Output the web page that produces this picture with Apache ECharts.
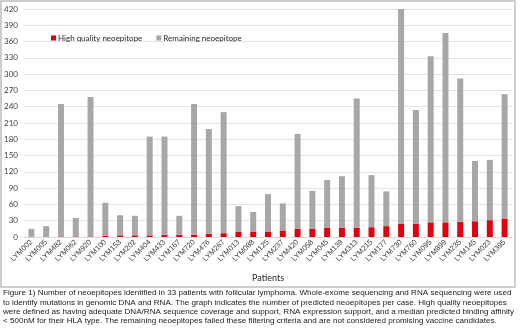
<!DOCTYPE html>
<html><head><meta charset="utf-8">
<script src="https://cdn.jsdelivr.net/npm/echarts@6/dist/echarts.min.js"></script>
<style>html,body{margin:0;padding:0;background:#fff}#c{width:520px;height:328px}</style>
</head><body><div id="c"></div>
<script>
const patients = ['LYM002','LYM005','LYM482','LYM062','LYM920','LYM100','LYM153','LYM202','LYM404','LYM433','LYM167','LYM720','LYM476','LYM267','LYM013','LYM088','LYM125','LYM237','LYM420','LYM058','LYM045','LYM139','LYM313','LYM215','LYM177','LYM730','LYM760','LYM095','LYM899','LYM235','LYM145','LYM023','LYM395'];
const highQuality = [0,0,1,1,1,2,3,3,3,4,4,4,6,7,10,10,10,12,15,15,17,17,17,18,20,24,24,27,27,28,29,31,34];
const remaining = [15,20,244,34,257,61,37,36,182,181,35,241,193,223,47,36,69,50,175,70,88,95,238,96,64,396,210,306,349,264,111,111,229];
const yTicks = {min:0, max:420, interval:30};
const captionLines = [
 'Figure 1) Number of neoepitopes identified in 33 patients with follicular lymphoma. Whole-exome sequencing and RNA sequencing were used',
 'to identify mutations in genomic DNA and RNA. The graph indicates the number of predicted neoepitopes per case. High quality neoepitopes',
 'were defined as having adequate DNA/RNA sequence coverage and support, RNA expression support, and a median predicted binding affinity',
 '< 500nM for their HLA type. The remaining neoepitopes failed these filtering criteria and are not considered promising vaccine candidates.'
];
const chart = echarts.init(document.getElementById('c'), null, {renderer:'canvas'});
chart.setOption({
  animation:false,
  legend:{
    top:29, left:46, itemWidth:5, itemHeight:5, itemGap:14, icon:'rect',
    textStyle:{fontFamily:'Lato', fontSize:8, color:'#262626', padding:[0,0,0,-3]},
    data:['High quality neoepitope','Remaining neoepitope']
  },
  grid:{left:24, right:8, top:9, bottom:91, containLabel:false},
  xAxis:{
    type:'category', data:patients,
    name:'Patients', nameLocation:'middle', nameGap:37,
    nameTextStyle:{fontFamily:'Lato', fontSize:9, color:'#262626'},
    axisLine:{show:true, lineStyle:{color:'#d9d9d9'}},
    axisTick:{show:false},
    axisLabel:{rotate:45, interval:0, fontFamily:'Liberation Sans', fontSize:7.5, color:'#404040', margin:4}
  },
  yAxis:{
    type:'value', min:yTicks.min, max:yTicks.max, interval:yTicks.interval,
    axisLine:{show:false}, axisTick:{show:false},
    splitLine:{lineStyle:{color:'#e3e3e3', width:1}},
    axisLabel:{fontFamily:'Lato', fontSize:8, color:'#404040', margin:6}
  },
  series:[
    {name:'High quality neoepitope', type:'bar', stack:'t', data:highQuality, barWidth:6, itemStyle:{color:'#e0000f'}},
    {name:'Remaining neoepitope', type:'bar', stack:'t', data:remaining, barWidth:6, itemStyle:{color:'#aaa6a6'}}
  ],
  graphic:[
    {type:'rect', shape:{x:1, y:1, width:514, height:286}, style:{fill:'none', stroke:'#bdbdbd', lineWidth:1.5}, silent:true},
    ...captionLines.map((t,i)=>({type:'text', left:3, top:289+i*9.4,
      style:{text:t, font:'8.1px "Liberation Sans"', fill:'#1a1a1a'}}))
  ]
});
</script></body></html>
